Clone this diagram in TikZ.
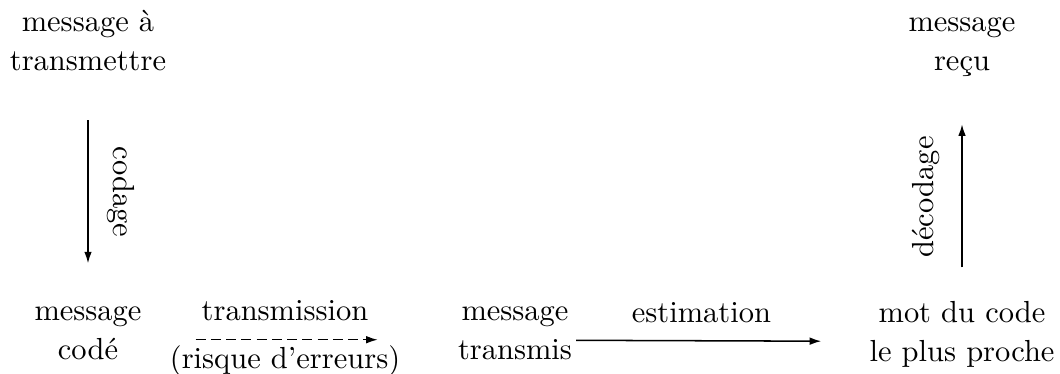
\documentclass[tikz,border=0pt]{standalone}
\usetikzlibrary{arrows.meta}
\begin{document}
\begin{tikzpicture}[x=0.328pt, y=-0.328pt,
  etiq/.style={align=center, font=\fontsize{10pt}{12.8pt}\selectfont},
  fleche/.style={line width=0.5pt, -{Latex[length=3.8pt,width=2.5pt]}}]
  \useasboundingbox (0,0) rectangle (1060,373);
  \node[etiq] (depart) at (88,41) {message à\\transmettre};
  \node[etiq] (recu) at (962,47.5) {message\\reçu};
  \node[etiq] (code) at (88,333) {message\\codé};
  \node[etiq] (transmis) at (515,333) {message\\transmis};
  \node[etiq] (proche) at (962,334) {mot du code\\le plus proche};
  \node[etiq, rotate=-90] (codage) at (121,192) {codage};
  \node[etiq, rotate=90] (decodage) at (926,197) {décodage};
  \draw[fleche, shorten <=12.5pt, shorten >=10.6pt] (depart) -- (code);
  \draw[fleche, dash pattern=on 3.3pt off 1.7pt, shorten <=14.2pt, shorten >=22.8pt]
    ([yshift=-2.2pt]code.east) -- node[etiq, pos=0.45, above=2.7pt] (transmission) {transmission}
    node[etiq, pos=0.45, below=-1.6pt] (risque) {(risque d’erreurs)} ([yshift=-2.2pt]transmis.west);
  \draw[fleche, shorten <=-2.2pt, shorten >=12.3pt]
    ([yshift=-2.4pt]transmis.east) -- node[etiq, pos=0.43, above=2.2pt] (estimation) {estimation}
    ([yshift=-2.4pt]proche.west);
  \draw[fleche, shorten <=7.5pt, shorten >=12pt] (proche) -- (recu);
\end{tikzpicture}
\end{document}
